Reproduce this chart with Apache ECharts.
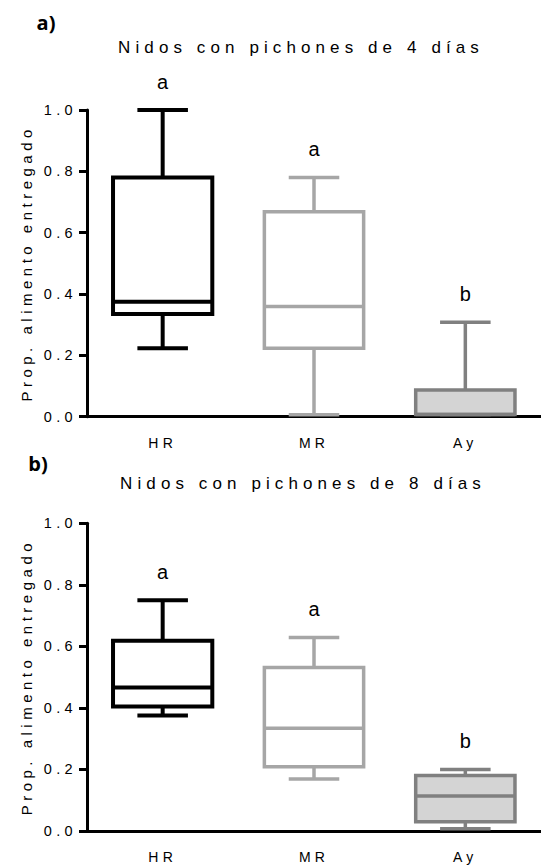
<!DOCTYPE html>
<html>
<head>
<meta charset="utf-8">
<script src="https://cdn.jsdelivr.net/npm/echarts@6/dist/echarts.min.js"></script>
<style>
  html, body { margin: 0; padding: 0; background: #fff; }
  #chart { width: 541px; height: 867px; }
  /* Prism-style spaced lettering for the plain labels */
  #chart text { letter-spacing: 0.3em; }
  #chart text[style*="bold"] { letter-spacing: 0; }
</style>
</head>
<body>
<div id="chart"></div>
<script>
// Groups on the x axis
const categories = ['HR', 'MR', 'Ay'];

// Box summaries per group: [min, Q1, median, Q3, max]
const day4HR = [0.223, 0.335, 0.375, 0.780, 1.000];
const day4MR = [0.006, 0.223, 0.359, 0.668, 0.780];
const day4Ay = [0.007, 0.007, 0.007, 0.087, 0.308];

const day8HR = [0.375, 0.405, 0.466, 0.618, 0.750];
const day8MR = [0.169, 0.209, 0.334, 0.531, 0.629];
const day8Ay = [0.007, 0.030, 0.114, 0.180, 0.200];

// Significance letters above each box
const day4Letters = ['a', 'a', 'b'];
const day8Letters = ['a', 'a', 'b'];

// Y axis ticks
const yMin = 0, yMax = 1, yStep = 0.2;

const titles = ['Nidos con pichones de 4 días', 'Nidos con pichones de 8 días'];
const yName = 'Prop. alimento entregado';

// Per-group look
const strokeColors = ['#000000', '#a6a6a6', '#808080'];
const fillColors = ['#ffffff', '#ffffff', '#d4d4d4'];
const strokeWidths = [4, 3.5, 3.5];

function toRows(groups) {
  return groups.map((g, i) => [i].concat(g));
}

function makeRenderer(letters) {
  return function (params, api) {
    const idx = api.value(0);
    const lo = api.value(1), q1 = api.value(2), med = api.value(3),
          q3 = api.value(4), hi = api.value(5);
    const band = api.size([1, 0])[0];
    const half = band * 0.328;
    const capHalf = band * 0.167;
    const x = api.coord([idx, 0])[0];
    const y = v => api.coord([idx, v])[1];
    const stroke = strokeColors[idx];
    const lw = strokeWidths[idx];
    const ls = { stroke: stroke, lineWidth: lw, fill: null };
    const line = (x1, y1, x2, y2) => ({
      type: 'line', shape: { x1, y1, x2, y2 }, style: Object.assign({}, ls)
    });
    return {
      type: 'group',
      children: [
        line(x, y(hi), x, y(q3)),
        line(x, y(q1), x, y(lo)),
        line(x - capHalf, y(hi), x + capHalf, y(hi)),
        line(x - capHalf, y(lo), x + capHalf, y(lo)),
        {
          type: 'rect',
          shape: { x: x - half, y: y(q3), width: half * 2, height: y(q1) - y(q3) },
          style: { fill: fillColors[idx], stroke: stroke, lineWidth: lw }
        },
        line(x - half, y(med), x + half, y(med)),
        {
          type: 'text',
          x: x + 3,
          y: y(hi) - 28,
          style: {
            text: letters[params.dataIndex],
            textAlign: 'center', textVerticalAlign: 'middle',
            fontSize: 20, fontFamily: 'Liberation Sans, Arial', fill: '#000'
          }
        }
      ]
    };
  };
}

const font = 'Liberation Sans, Arial, sans-serif';

function xAxisFor(gridIndex) {
  return {
    type: 'category', gridIndex, data: categories,
    boundaryGap: true,
    axisLine: { lineStyle: { color: '#000', width: 3 } },
    axisTick: { alignWithLabel: true, length: 7, lineStyle: { color: '#000', width: 2.5 } },
    axisLabel: { color: '#000', fontSize: 14, fontFamily: font, margin: 19 },
    splitLine: { show: false }
  };
}

function yAxisFor(gridIndex) {
  return {
    type: 'value', gridIndex, min: yMin, max: yMax, interval: yStep,
    name: yName, nameLocation: 'middle', nameGap: 53,
    nameTextStyle: { color: '#000', fontSize: 15, fontFamily: font },
    axisLine: { show: true, lineStyle: { color: '#000', width: 3 } },
    axisTick: { show: true, length: 8, lineStyle: { color: '#000', width: 3 } },
    axisLabel: { color: '#000', fontSize: 14.5, fontFamily: font, margin: 10,
                 formatter: v => v.toFixed(1) },
    splitLine: { show: false }
  };
}

const chart = echarts.init(document.getElementById('chart'), null, { renderer: 'svg' });

chart.setOption({
  animation: false,
  backgroundColor: '#fff',
  grid: [
    { left: 87, top: 110, width: 459, height: 306.7 },
    { left: 87, top: 523.3, width: 459, height: 307.7 }
  ],
  xAxis: [xAxisFor(0), xAxisFor(1)],
  yAxis: [yAxisFor(0), yAxisFor(1)],
  graphic: [
    { type: 'text', x: 46, y: 22,
      style: { text: 'a)', fontSize: 20, fontWeight: 'bold', fontFamily: 'Open Sans, sans-serif',
               fill: '#000', textAlign: 'center', textVerticalAlign: 'middle' } },
    { type: 'text', x: 301, y: 47,
      style: { text: titles[0], fontSize: 17, fontFamily: font,
               fill: '#000', textAlign: 'center', textVerticalAlign: 'middle' } },
    { type: 'text', x: 38, y: 463,
      style: { text: 'b)', fontSize: 20, fontWeight: 'bold', fontFamily: 'Open Sans, sans-serif',
               fill: '#000', textAlign: 'center', textVerticalAlign: 'middle' } },
    { type: 'text', x: 303, y: 483,
      style: { text: titles[1], fontSize: 17, fontFamily: font,
               fill: '#000', textAlign: 'center', textVerticalAlign: 'middle' } }
  ],
  series: [
    {
      type: 'custom', xAxisIndex: 0, yAxisIndex: 0,
      renderItem: makeRenderer(day4Letters),
      encode: { x: 0, y: [1, 2, 3, 4, 5] },
      data: toRows([day4HR, day4MR, day4Ay]),
      clip: false, z: 3
    },
    {
      type: 'custom', xAxisIndex: 1, yAxisIndex: 1,
      renderItem: makeRenderer(day8Letters),
      encode: { x: 0, y: [1, 2, 3, 4, 5] },
      data: toRows([day8HR, day8MR, day8Ay]),
      clip: false, z: 3
    }
  ]
});
</script>
</body>
</html>
